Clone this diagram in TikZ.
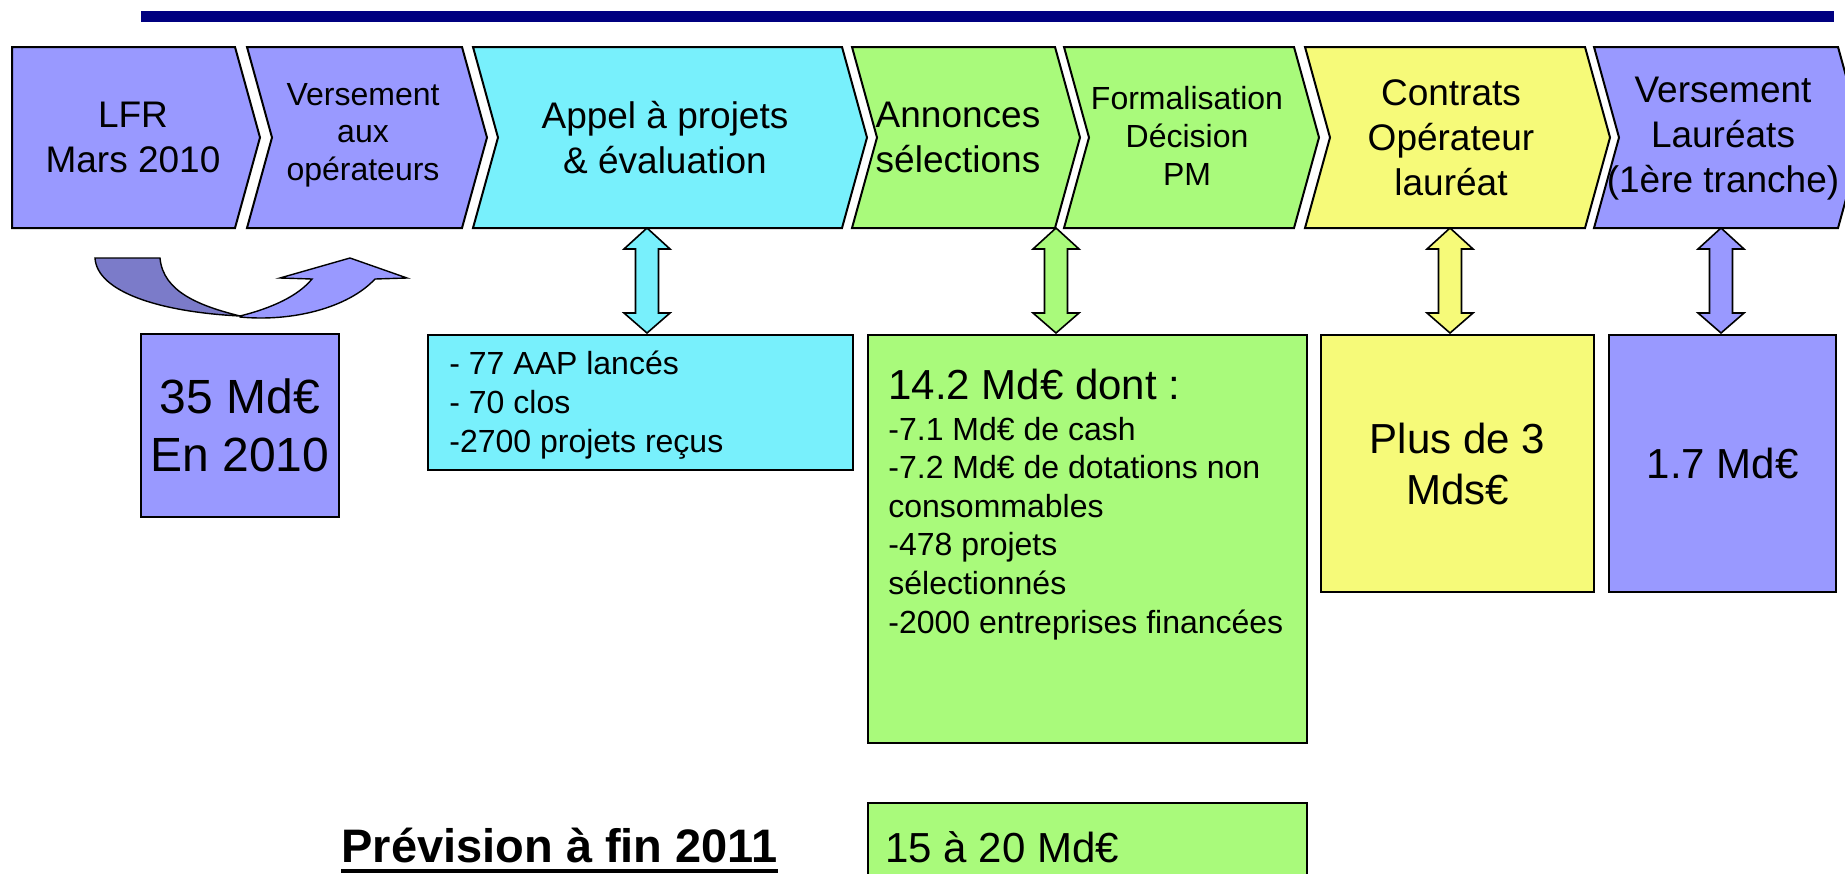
\documentclass[tikz,border=0pt]{standalone}
\usepackage{fontspec}
\setmainfont{Liberation Sans}
\usetikzlibrary{positioning}
\definecolor{lav}{HTML}{9999FF}
\definecolor{lavdark}{HTML}{7B7BC9}
\definecolor{cyanbox}{HTML}{78F0FC}
\definecolor{greenbox}{HTML}{A9FA7B}
\definecolor{yellowbox}{HTML}{F6FA79}
\definecolor{navybar}{HTML}{000080}

% vertical double block arrow at x=#1, filled with #2
\newcommand{\updown}[2]{%
  \draw[arr, fill=#2] (#1,228) -- ++(23,21) -- ++(-11.5,0) -- ++(0,64) -- ++(11.5,0)
    -- (#1,333) -- ++(-23,-20) -- ++(11.5,0) -- ++(0,-64) -- ++(-11.5,0) -- cycle;}

\begin{document}
\begin{tikzpicture}[x=0.5pt, y=-0.5pt,
  chev/.style={draw, line width=1pt, line join=miter},
  box/.style={draw, line width=1pt, inner sep=0pt, anchor=north west},
  big/.style={align=center, font=\fontsize{18.5}{22.5}\selectfont},
  small/.style={align=center, font=\fontsize{16}{18.8}\selectfont},
  list/.style={align=left, anchor=base west, inner sep=0pt, font=\fontsize{16}{19.3}\selectfont},
  arr/.style={draw, line width=0.8pt, line join=miter},
]
  \clip (0,0) rectangle (1845,873);
  % title bar
  \fill[navybar] (141,11) rectangle (1834,22);

  % process steps
  \draw[chev, fill=lav] (12,47) -- (235,47) -- (260,137.5) -- (235,228) -- (12,228) -- cycle;
  \node[big] (lfr) at (133,137.5) {LFR\\Mars 2010};
  \draw[chev, fill=lav] (247,47) -- (462,47) -- (487,137.5) -- (462,228) -- (247,228) -- (272,137.5) -- cycle;
  \node[small] (versop) at (363,135) {Versement\\aux\\opérateurs};
  \draw[chev, fill=cyanbox] (473,47) -- (842,47) -- (867,137.5) -- (842,228) -- (473,228) -- (498,137.5) -- cycle;
  \node[big] (appel) at (665,137.5) {Appel à projets\\\& évaluation};
  \draw[chev, fill=greenbox] (852,47) -- (1055,47) -- (1080,137.5) -- (1055,228) -- (852,228) -- (877,137.5) -- cycle;
  \node[big] (annonces) at (958,137.5) {Annonces\\sélections};
  \draw[chev, fill=greenbox] (1064,47) -- (1294,47) -- (1319,137.5) -- (1294,228) -- (1064,228) -- (1089,137.5) -- cycle;
  \node[small] (formal) at (1187,136) {Formalisation\\Décision\\PM};
  \draw[chev, fill=yellowbox] (1305,47) -- (1585,47) -- (1610,137.5) -- (1585,228) -- (1305,228) -- (1330,137.5) -- cycle;
  \node[big] (contrats) at (1451,137.5) {Contrats\\Opérateur\\lauréat};
  \draw[chev, fill=lav] (1594,47) -- (1838,47) -- (1863,137.5) -- (1838,228) -- (1594,228) -- (1619,137.5) -- cycle;
  \node[big] (verslau) at (1723,138.5) {Versement\\Lauréats\\(1ère tranche)};

  % curved arrow under the first steps
  \draw[line width=0.7pt, fill=lavdark] (95,258) -- (160,258)
    .. controls (163,292) and (200,306) .. (240,316)
    .. controls (160,312) and (97,292) .. (95,258) -- cycle;
  \draw[line width=0.7pt, fill=lav] (240,316)
    .. controls (272,308) and (298,296) .. (312,279) -- (280,278) -- (350,258) -- (407,278) -- (375,279)
    .. controls (348,308) and (292,322) .. (240,317) -- cycle;

  % figures
  \node[box, fill=lav, minimum width=99pt, minimum height=91.5pt, align=center,
    font=\fontsize{24}{29}\selectfont] (mds35) at (140,333) {35 Md€\\En 2010};
  \node[box, fill=cyanbox, minimum width=212.5pt, minimum height=67.5pt] (aap) at (427,334) {};
  \node[list] (aaptxt) at ([xshift=11pt, yshift=-59pt]aap.north west)
    {- 77 AAP lancés\\- 70 clos\\-2700 projets reçus};
  \node[box, fill=greenbox, minimum width=219.5pt, minimum height=204pt] (sel) at (867,334) {};
  \node[list] (seltxt) at ([xshift=10.5pt, yshift=-149.5pt]sel.north west)
    {{\fontsize{21}{24}\selectfont 14.2 Md€ dont :}\\[1.2pt]-7.1 Md€ de cash\\-7.2 Md€ de dotations non\\consommables\\-478 projets\\sélectionnés\\-2000 entreprises financées};
  \node[box, fill=yellowbox, minimum width=136.5pt, minimum height=128.5pt, align=center,
    font=\fontsize{21}{25.5}\selectfont] (plus3) at (1320,334) {Plus de 3\\Mds€};
  \node[box, fill=lav, minimum width=113.5pt, minimum height=128.5pt,
    font=\fontsize{21}{25.5}\selectfont] (md17) at (1608,334) {1.7 Md€};

  % links steps - figures
  \updown{647}{cyanbox}
  \updown{1056}{greenbox}
  \updown{1450}{yellowbox}
  \updown{1721}{lav}

  % forecast
  \node[font=\bfseries\fontsize{23.5}{28}\selectfont, anchor=base west, inner sep=0pt] (prev) at (341,862) {Prévision à fin 2011};
  \draw[line width=2pt] ([yshift=-4.5pt]prev.base west) -- ([yshift=-4.5pt]prev.base east);
  \node[box, fill=greenbox, minimum width=219.5pt, minimum height=50pt] (prevbox) at (867,802) {};
  \node[list, font=\fontsize{21}{25}\selectfont] (prevtxt) at ([xshift=9pt, yshift=-30pt]prevbox.north west) {15 à 20 Md€};
\end{tikzpicture}
\end{document}
